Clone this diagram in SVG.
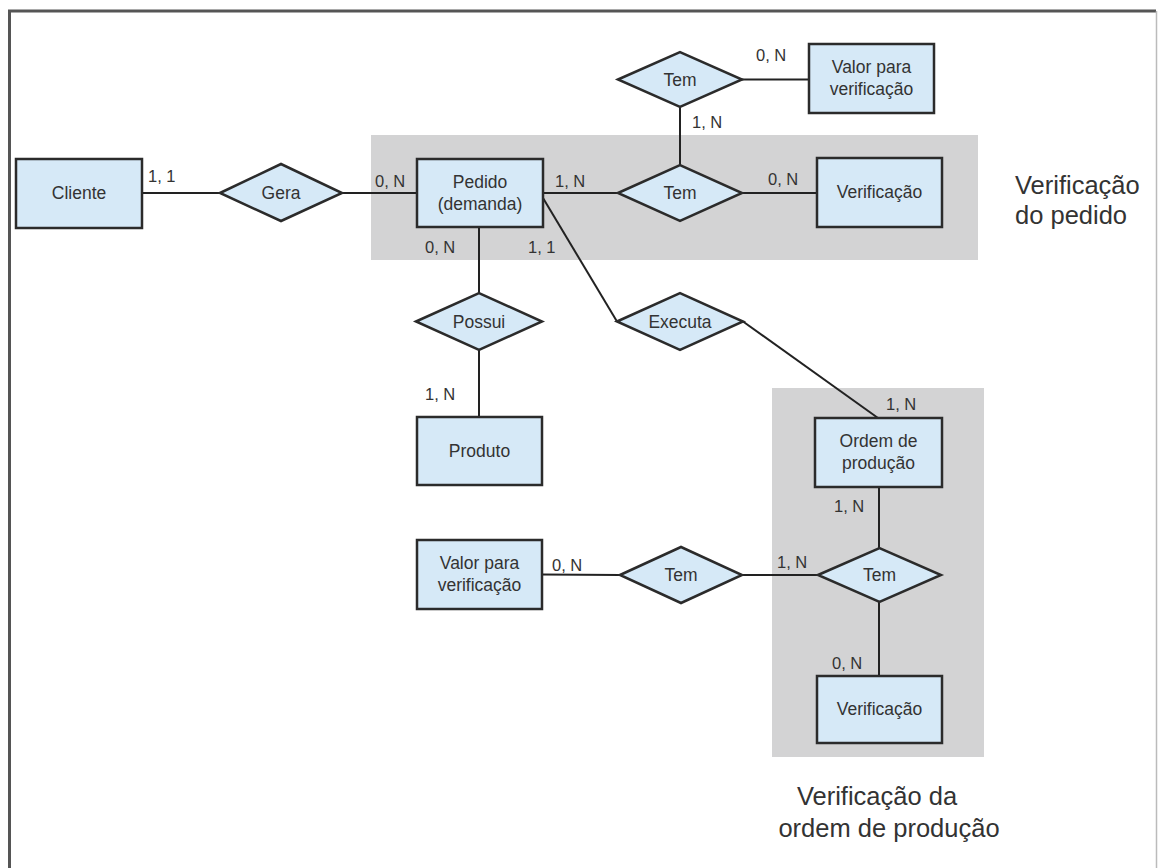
<svg xmlns="http://www.w3.org/2000/svg" width="1158" height="868" viewBox="0 0 1158 868">
  <style>
    .ent { fill: #d6e9f7; stroke: #2b2b2b; stroke-width: 2.5; }
    .rel { fill: #d6e9f7; stroke: #2b2b2b; stroke-width: 2.5; stroke-linejoin: miter; }
    .zone { fill: #d3d3d4; }
    .lbl { font-family: "Liberation Sans", Arial, sans-serif; font-size: 17.5px; fill: #333; text-anchor: middle; }
    .card { font-family: "Liberation Sans", Arial, sans-serif; font-size: 16.5px; fill: #333; }
    .title { font-family: "Liberation Sans", Arial, sans-serif; font-size: 25.5px; fill: #333; }
    .conn line { stroke: #222; stroke-width: 2; fill: none; }
  </style>

  <rect width="1158" height="868" fill="#ffffff"/>

  <!-- outer frame -->
  <path d="M 9.5 868 V 11 H 1156" fill="none" stroke="#555" stroke-width="3"/>
  <line x1="1156.5" y1="11" x2="1156.5" y2="868" stroke="#bbb" stroke-width="1.5"/>

  <!-- shaded areas -->
  <rect id="zone-pedido" class="zone" x="371" y="135" width="607" height="125"/>
  <rect id="zone-ordem" class="zone" x="772" y="388" width="212" height="369"/>

  <!-- connectors -->
  <g id="connectors" class="conn">
    <line x1="142" y1="193" x2="220" y2="193"/>
    <line x1="342" y1="193" x2="417" y2="193"/>
    <line x1="543" y1="193" x2="618" y2="193"/>
    <line x1="742" y1="193" x2="817" y2="193"/>
    <line x1="680" y1="107" x2="680" y2="165"/>
    <line x1="742" y1="79.5" x2="809" y2="79.5"/>
    <line x1="479" y1="227" x2="479" y2="293"/>
    <line x1="479" y1="350" x2="479" y2="417"/>
    <line x1="543" y1="198" x2="617" y2="321.5"/>
    <line x1="743" y1="321.5" x2="878" y2="418"/>
    <line x1="879" y1="487" x2="879" y2="548"/>
    <line x1="879" y1="602" x2="879" y2="676"/>
    <line x1="542" y1="574.5" x2="620" y2="575"/>
    <line x1="742" y1="575" x2="818" y2="575"/>
  </g>

  <!-- entities -->
  <g id="cliente">
    <rect class="ent" x="16" y="159" width="126" height="69"/>
    <text class="lbl" x="79" y="199">Cliente</text>
  </g>
  <g id="pedido">
    <rect class="ent" x="417" y="159" width="126" height="68"/>
    <text class="lbl" x="480" y="188">Pedido</text>
    <text class="lbl" x="480" y="210">(demanda)</text>
  </g>
  <g id="valor-pedido">
    <rect class="ent" x="809" y="44" width="125" height="69"/>
    <text class="lbl" x="871.5" y="73">Valor para</text>
    <text class="lbl" x="871.5" y="95">verificação</text>
  </g>
  <g id="verificacao-pedido">
    <rect class="ent" x="817" y="158" width="125" height="69"/>
    <text class="lbl" x="879.5" y="198">Verificação</text>
  </g>
  <g id="produto">
    <rect class="ent" x="417" y="417" width="125" height="68"/>
    <text class="lbl" x="479.5" y="457">Produto</text>
  </g>
  <g id="ordem-producao">
    <rect class="ent" x="815" y="418" width="127" height="69"/>
    <text class="lbl" x="878.5" y="447">Ordem de</text>
    <text class="lbl" x="878.5" y="469">produção</text>
  </g>
  <g id="valor-ordem">
    <rect class="ent" x="417" y="540" width="125" height="69"/>
    <text class="lbl" x="479.5" y="569">Valor para</text>
    <text class="lbl" x="479.5" y="591">verificação</text>
  </g>
  <g id="verificacao-ordem">
    <rect class="ent" x="817" y="676" width="125" height="67"/>
    <text class="lbl" x="879.5" y="715">Verificação</text>
  </g>

  <!-- relationships -->
  <g id="gera">
    <polygon class="rel" points="220,193 281,164 342,193 281,221"/>
    <text class="lbl" x="281" y="199">Gera</text>
  </g>
  <g id="tem-valor-pedido">
    <polygon class="rel" points="618,79.5 680,52 742,79.5 680,107"/>
    <text class="lbl" x="680" y="85.5">Tem</text>
  </g>
  <g id="tem-verificacao-pedido">
    <polygon class="rel" points="618,193 680,165 742,193 680,221"/>
    <text class="lbl" x="680" y="199">Tem</text>
  </g>
  <g id="possui">
    <polygon class="rel" points="416,321.5 479,293 542,321.5 479,350"/>
    <text class="lbl" x="479" y="327.5">Possui</text>
  </g>
  <g id="executa">
    <polygon class="rel" points="617,321.5 680,293 743,321.5 680,350"/>
    <text class="lbl" x="680" y="327.5">Executa</text>
  </g>
  <g id="tem-valor-ordem">
    <polygon class="rel" points="620,575 681,547 742,575 681,603"/>
    <text class="lbl" x="681" y="581">Tem</text>
  </g>
  <g id="tem-verificacao-ordem">
    <polygon class="rel" points="818,575 879.5,548 941,575 879.5,602"/>
    <text class="lbl" x="879.5" y="581">Tem</text>
  </g>

  <!-- cardinalities -->
  <g id="cardinalities">
    <text class="card" x="148" y="182">1, 1</text>
    <text class="card" x="375" y="187">0, N</text>
    <text class="card" x="555" y="187">1, N</text>
    <text class="card" x="768" y="185">0, N</text>
    <text class="card" x="692" y="128">1, N</text>
    <text class="card" x="756" y="61">0, N</text>
    <text class="card" x="425" y="253">0, N</text>
    <text class="card" x="528" y="253">1, 1</text>
    <text class="card" x="425" y="400">1, N</text>
    <text class="card" x="886" y="410">1, N</text>
    <text class="card" x="834" y="512">1, N</text>
    <text class="card" x="777" y="568">1, N</text>
    <text class="card" x="552" y="571">0, N</text>
    <text class="card" x="832" y="669">0, N</text>
  </g>

  <!-- area titles -->
  <g id="title-pedido">
    <text class="title" x="1015" y="194">Verificação</text>
    <text class="title" x="1015" y="224">do pedido</text>
  </g>
  <g id="title-ordem">
    <text class="title" x="877" y="805" text-anchor="middle">Verificação da</text>
    <text class="title" x="889" y="837" text-anchor="middle">ordem de produção</text>
  </g>
</svg>
